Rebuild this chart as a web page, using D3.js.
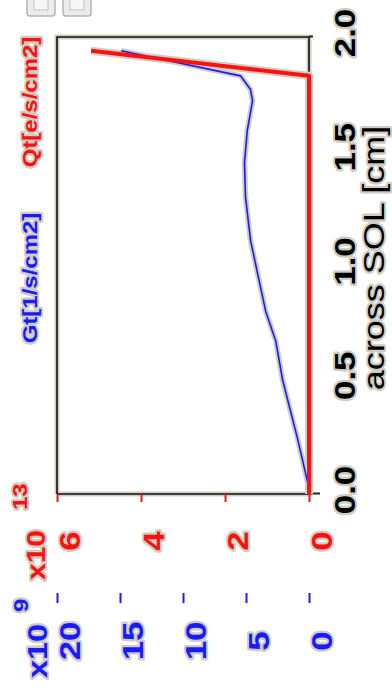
<!DOCTYPE html>
<html>
<head>
<meta charset="utf-8">
<script src="https://cdn.jsdelivr.net/npm/d3@7"></script>
<style>
  html, body { margin: 0; padding: 0; background: #fff; }
  svg { display: block; }
  text { font-family: "Liberation Sans", Arial, sans-serif; }
</style>
</head>
<body>
<svg id="chart" width="392" height="688"></svg>
<script>
// Profiles across the scrape-off layer
const gtX = [0, 0.03, 0.24, 0.5, 0.67, 0.8, 0.97, 1.11, 1.3, 1.45, 1.59, 1.72, 1.77, 1.83, 1.94];
const gtValues = [0, 0.02, 0.9, 2.1, 2.64, 3.44, 4.1, 4.64, 5.04, 5.12, 4.9, 4.48, 4.64, 5.44, 14.9]; // x1e9 1/s/cm2
const qtX = [0, 1.83, 1.94];
const qtValues = [0, 0, 5.19]; // x1e13 e/s/cm2

const xTicks = [0, 0.5, 1.0, 1.5, 2.0];
const qtTicks = [0, 2, 4, 6];
const gtTicks = [0, 5, 10, 15, 20];

const HALO = "#cfcdc3";
const RED = "#ff1010", BLUE = "#1a1aff";
const STRETCH = 1.2;             // glyphs are wider along the baseline

const svg = d3.select("#chart");
svg.append("rect").attr("width", 392).attr("height", 688).attr("fill", "#fff");

// small window buttons in the corner
[27, 63].forEach(bx => {
  svg.append("rect").attr("x", bx).attr("y", -5).attr("width", 28).attr("height", 21)
    .attr("rx", 3).attr("fill", "#ececec").attr("stroke", "#b4b4b4").attr("stroke-width", 1.5);
  svg.append("rect").attr("x", bx + 7).attr("y", -5).attr("width", 14).attr("height", 15)
    .attr("fill", "#f6f6f6").attr("stroke", "#c4c4c4").attr("stroke-width", 1);
});

// whole plot is drawn on its side
const g = svg.append("g").attr("transform", "translate(0,688) rotate(-90)");

const x = d3.scaleLinear().domain([0, 2]).range([194, 651]);
const yQ = d3.scaleLinear().domain([0, 6]).range([309, 57]);
const yG = d3.scaleLinear().domain([0, 20]).range([309, 57]);

function label(sel, u, v, txt, opts) {
  return sel.append("text")
    .attr("transform", `translate(${u},${v}) scale(${STRETCH},1)`)
    .attr("text-anchor", opts.anchor || "middle")
    .attr("font-size", opts.size)
    .attr("font-weight", opts.weight || "bold")
    .attr("fill", opts.color || "#000")
    .attr("stroke", HALO).attr("stroke-width", 4)
    .attr("paint-order", "stroke")
    .attr("stroke-linejoin", "round")
    .text(txt);
}

// frame
const fr = [[x(0), yQ(6)], [x(2), yQ(6)], [x(2), yQ(0)], [x(0), yQ(0)]];
const framePath = d3.line()(fr.concat([fr[0]]));
g.append("path").attr("d", framePath).attr("fill", "none").attr("stroke", HALO).attr("stroke-width", 5);
g.append("path").attr("d", framePath).attr("fill", "none").attr("stroke", "#111").attr("stroke-width", 1.6);

// x axis ticks (outward)
const xAxis = d3.axisBottom(x).tickValues(xTicks).tickSize(4).tickFormat("");
const xa = g.append("g").attr("transform", `translate(0,${yQ(0)})`).call(xAxis);
xa.select(".domain").remove();
xa.selectAll(".tick line").attr("stroke", "#222").attr("stroke-width", 2)
  .attr("y2", d => d === 0 ? 11 : 4);

xTicks.forEach(t => label(g, x(t) + 4, 355, d3.format(".1f")(t), { size: 29 }));
label(g, 430, 384, "across SOL [cm]", { size: 30, weight: "normal" });

// Qt axis ticks
const qAxis = d3.axisLeft(yQ).tickValues(qtTicks).tickSize(8).tickFormat("");
const qa = g.append("g").attr("transform", `translate(${x(0)},0)`).call(qAxis);
qa.select(".domain").remove();
qa.selectAll(".tick line").attr("stroke", RED).attr("stroke-width", 2);
qtTicks.forEach(t => label(g, 147, yQ(t) + 23, String(t), { size: 29, color: RED }));

// Gt axis ticks
const gAxis = d3.axisLeft(yG).tickValues(gtTicks).tickSize(10).tickFormat("");
const ga = g.append("g").attr("transform", "translate(95,0)").call(gAxis);
ga.select(".domain").remove();
ga.selectAll(".tick line").attr("stroke", BLUE).attr("stroke-width", 2);
gtTicks.forEach(t => label(g, 47, yG(t) + 23, String(t), { size: 29, color: BLUE }));

// exponent labels
label(g, 108, 45, "x10", { size: 25, color: RED, anchor: "start" });
label(g, 178, 27, "13", { size: 20, color: RED, anchor: "start" });
label(g, 10, 47, "x10", { size: 27, color: BLUE, anchor: "start" });
label(g, 76, 28, "9", { size: 20, color: BLUE, anchor: "start" });

// quantity labels
label(g, 586, 37, "Qt[e/s/cm2]", { size: 20, color: RED });
label(g, 410, 37, "Gt[1/s/cm2]", { size: 20, color: BLUE });

// profiles
const lineQ = d3.line().x((d, i) => x(qtX[i])).y(d => yQ(d));
const lineG = d3.line().x((d, i) => x(gtX[i])).y(d => yG(d));

g.append("path").attr("d", lineG(gtValues)).attr("fill", "none")
  .attr("stroke", HALO).attr("stroke-width", 5.5).attr("stroke-linejoin", "round");
g.append("path").attr("d", lineQ(qtValues)).attr("fill", "none")
  .attr("stroke", HALO).attr("stroke-width", 8).attr("stroke-linejoin", "round");
g.append("path").attr("d", lineG(gtValues)).attr("fill", "none")
  .attr("stroke", BLUE).attr("stroke-width", 1.6).attr("stroke-linejoin", "round");
g.append("path").attr("d", lineQ(qtValues)).attr("fill", "none")
  .attr("stroke", RED).attr("stroke-width", 4).attr("stroke-linejoin", "round");
</script>
</body>
</html>
